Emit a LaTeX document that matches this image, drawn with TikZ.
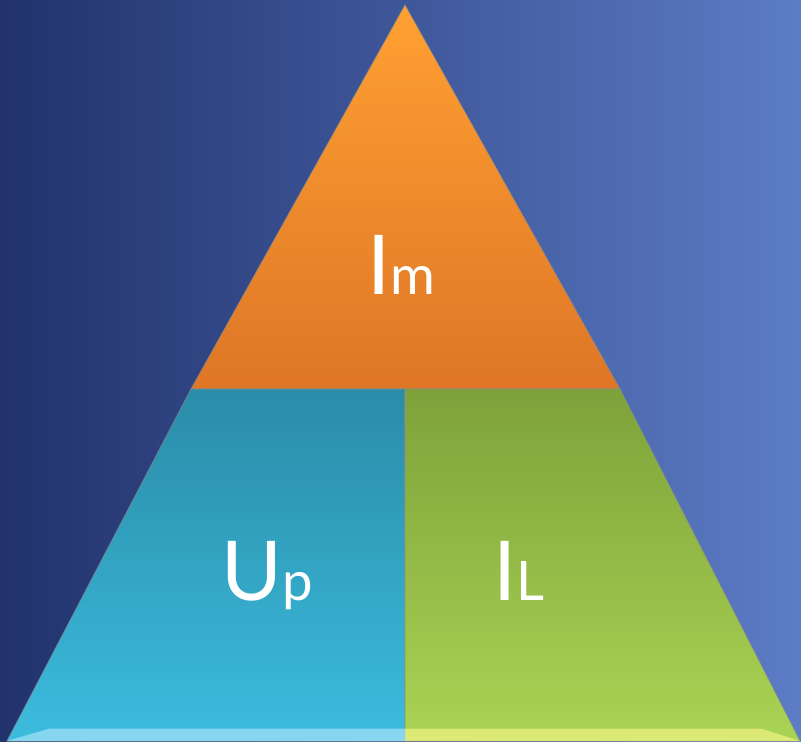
\documentclass[tikz,border=0pt]{standalone}
\usepackage{fontspec}
\setmainfont{Lato}
\definecolor{bgdark}{RGB}{33, 50, 108}
\definecolor{bglight}{RGB}{92, 124, 198}
\definecolor{ortop}{RGB}{255, 160, 50}
\definecolor{orbot}{RGB}{222, 118, 38}
\definecolor{tltop}{RGB}{42, 140, 168}
\definecolor{tlbot}{RGB}{60, 188, 222}
\definecolor{grtop}{RGB}{126, 162, 58}
\definecolor{grbot}{RGB}{170, 212, 84}
\newcommand{\smallidx}[1]{{\fontsize{31}{34}\selectfont #1}}

\begin{document}
\begin{tikzpicture}[x=0.02cm, y=0.02cm,
    part/.style={draw=black!45, draw opacity=0.5, line width=0.6pt},
    lbl/.style={text=white, anchor=base, inner sep=0pt, font=\fontsize{47}{50}\selectfont}
  ]
    % background
    \shade[left color=bgdark, right color=bglight] (0,0) rectangle (801,741);
    \useasboundingbox (0,0) rectangle (801,741);

    % corner points of the pyramid
    \coordinate (apex) at (405,736);
    \coordinate (midL) at (191,352);
    \coordinate (midC) at (405,352);
    \coordinate (midR) at (620,352);
    \coordinate (baseL) at (7,0);
    \coordinate (baseC) at (405,0);
    \coordinate (baseR) at (800,0);

    % three parts
    \shade[part, top color=ortop, bottom color=orbot] (apex) -- (midR) -- (midL) -- cycle;
    \shade[part, top color=tltop, bottom color=tlbot] (midL) -- (midC) -- (baseC) -- (baseL) -- cycle;
    \shade[part, top color=grtop, bottom color=grbot] (midC) -- (midR) -- (baseR) -- (baseC) -- cycle;

    % light bottom rims
    \fill[cyan!35!white, opacity=0.7] (baseL) -- (baseC) -- ([yshift=7]baseC) -- ([xshift=24, yshift=7]baseL) -- cycle;
    \fill[yellow!45!white, opacity=0.6] (baseC) -- (baseR) -- ([xshift=-22, yshift=7]baseR) -- ([yshift=7]baseC) -- cycle;

    % labels
    \node[lbl] (im) at (401,446) {I\smallidx{m}};
    \node[lbl] (up) at (267,141) {U\smallidx{p}};
    \node[lbl] (il) at (519,141) {I\smallidx{L}};
\end{tikzpicture}
\end{document}
